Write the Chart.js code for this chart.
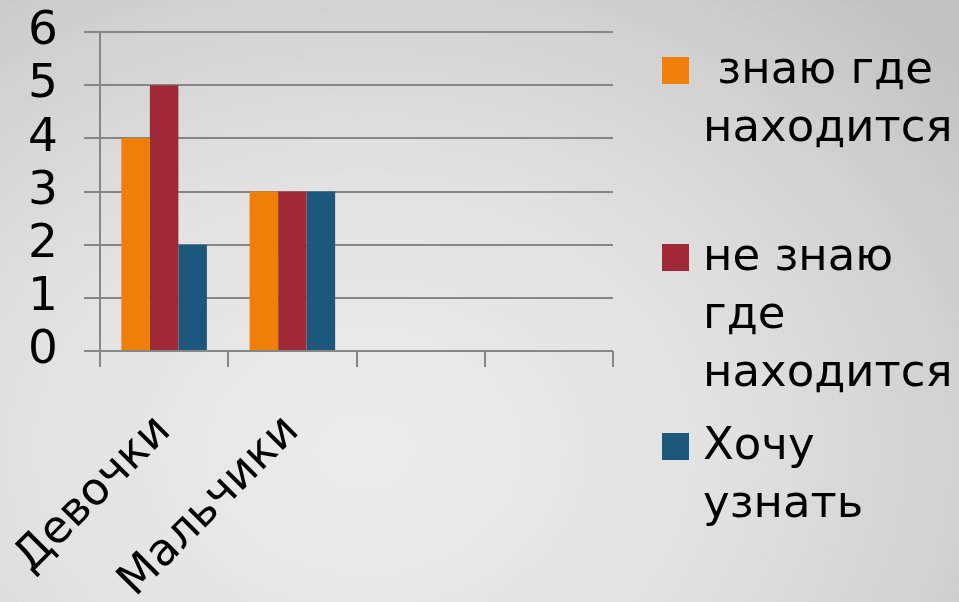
<!DOCTYPE html>
<html>
<head>
<meta charset="utf-8">
<script src="https://cdn.jsdelivr.net/npm/chart.js@4/dist/chart.umd.min.js"></script>
<style>
html, body { margin: 0; padding: 0; }
body {
    width: 959px; height: 602px; overflow: hidden;
    background: radial-gradient(ellipse 80% 100% at 38% 75%, #ececec 0%, #e2e2e2 45%, #cdcdcd 85%, #c2c2c2 100%);
}
#wrap { position: relative; width: 959px; height: 602px; }
</style>
</head>
<body>
<div id="wrap"><canvas id="myChart"></canvas></div>
<script>
// chart data
var categories = ['Девочки', 'Мальчики', '', ''];
var knowWhere = [4, 3, null, null];
var dontKnow = [5, 3, null, null];
var wantToKnow = [2, 3, null, null];
var yTicks = [0, 1, 2, 3, 4, 5, 6];
// legend text, one entry per series, split in lines like the picture
var legendLines = [[' знаю где', 'находится'], ['не знаю', 'где', 'находится'], ['Хочу', 'узнать']];

var colors = ['#f07f09', '#9f2936', '#1b587c'];
var font = "'DejaVu Sans', Verdana, sans-serif";

// legend drawn at the right, text wraps like the original
var sideLegend = {
    id: 'sideLegend',
    afterDraw: function (chart) {
        var ctx = chart.ctx;
        var tops = [71, 258, 447];
        ctx.save();
        ctx.font = '45px ' + font;
        ctx.textBaseline = 'middle';
        chart.data.datasets.forEach(function (ds, i) {
            ctx.fillStyle = ds.backgroundColor;
            ctx.fillRect(662, tops[i] - 14, 27, 27);
            ctx.fillStyle = '#000';
            legendLines[i].forEach(function (line, j) {
                ctx.fillText(line, 703, tops[i] + j * 58);
            });
        });
        ctx.restore();
    }
};

function noPad(s) {
    s.paddingLeft = 0; s.paddingRight = 0; s.paddingTop = 0; s.paddingBottom = 0;
}

var ctx = document.getElementById('myChart').getContext('2d');
var chart = new Chart(ctx, {
    type: 'bar',
    data: {
        labels: categories,
        datasets: [
            { label: legendLines[0].join(' ').trim(), data: knowWhere, backgroundColor: colors[0] },
            { label: legendLines[1].join(' '), data: dontKnow, backgroundColor: colors[1] },
            { label: legendLines[2].join(' '), data: wantToKnow, backgroundColor: colors[2] }
        ]
    },
    options: {
        responsive: true,
        maintainAspectRatio: false,
        animation: false,
        layout: { padding: { left: 0, right: 346, top: 32, bottom: 0 } },
        datasets: { bar: { categoryPercentage: 0.667, barPercentage: 1.0 } },
        plugins: { legend: { display: false }, tooltip: { enabled: false } },
        scales: {
            x: {
                afterFit: function (s) { s.height = 251; noPad(s); },
                grid: { offset: true, drawOnChartArea: false, tickLength: 16, color: '#868686', lineWidth: 2 },
                border: { display: false },
                ticks: { color: '#000', font: { family: font, size: 45 }, minRotation: 45, maxRotation: 45, padding: 38, autoSkip: false }
            },
            y: {
                min: 0, max: 6,
                afterFit: function (s) { s.width = 100; noPad(s); },
                afterBuildTicks: function (s) { s.ticks = yTicks.map(function (v) { return { value: v }; }); },
                grid: { color: '#868686', lineWidth: 2, tickLength: 16 },
                border: { color: '#868686', width: 2 },
                ticks: { color: '#000', font: { family: font, size: 47 }, padding: 26, autoSkip: false }
            }
        }
    },
    plugins: [sideLegend]
});
</script>
</body>
</html>
